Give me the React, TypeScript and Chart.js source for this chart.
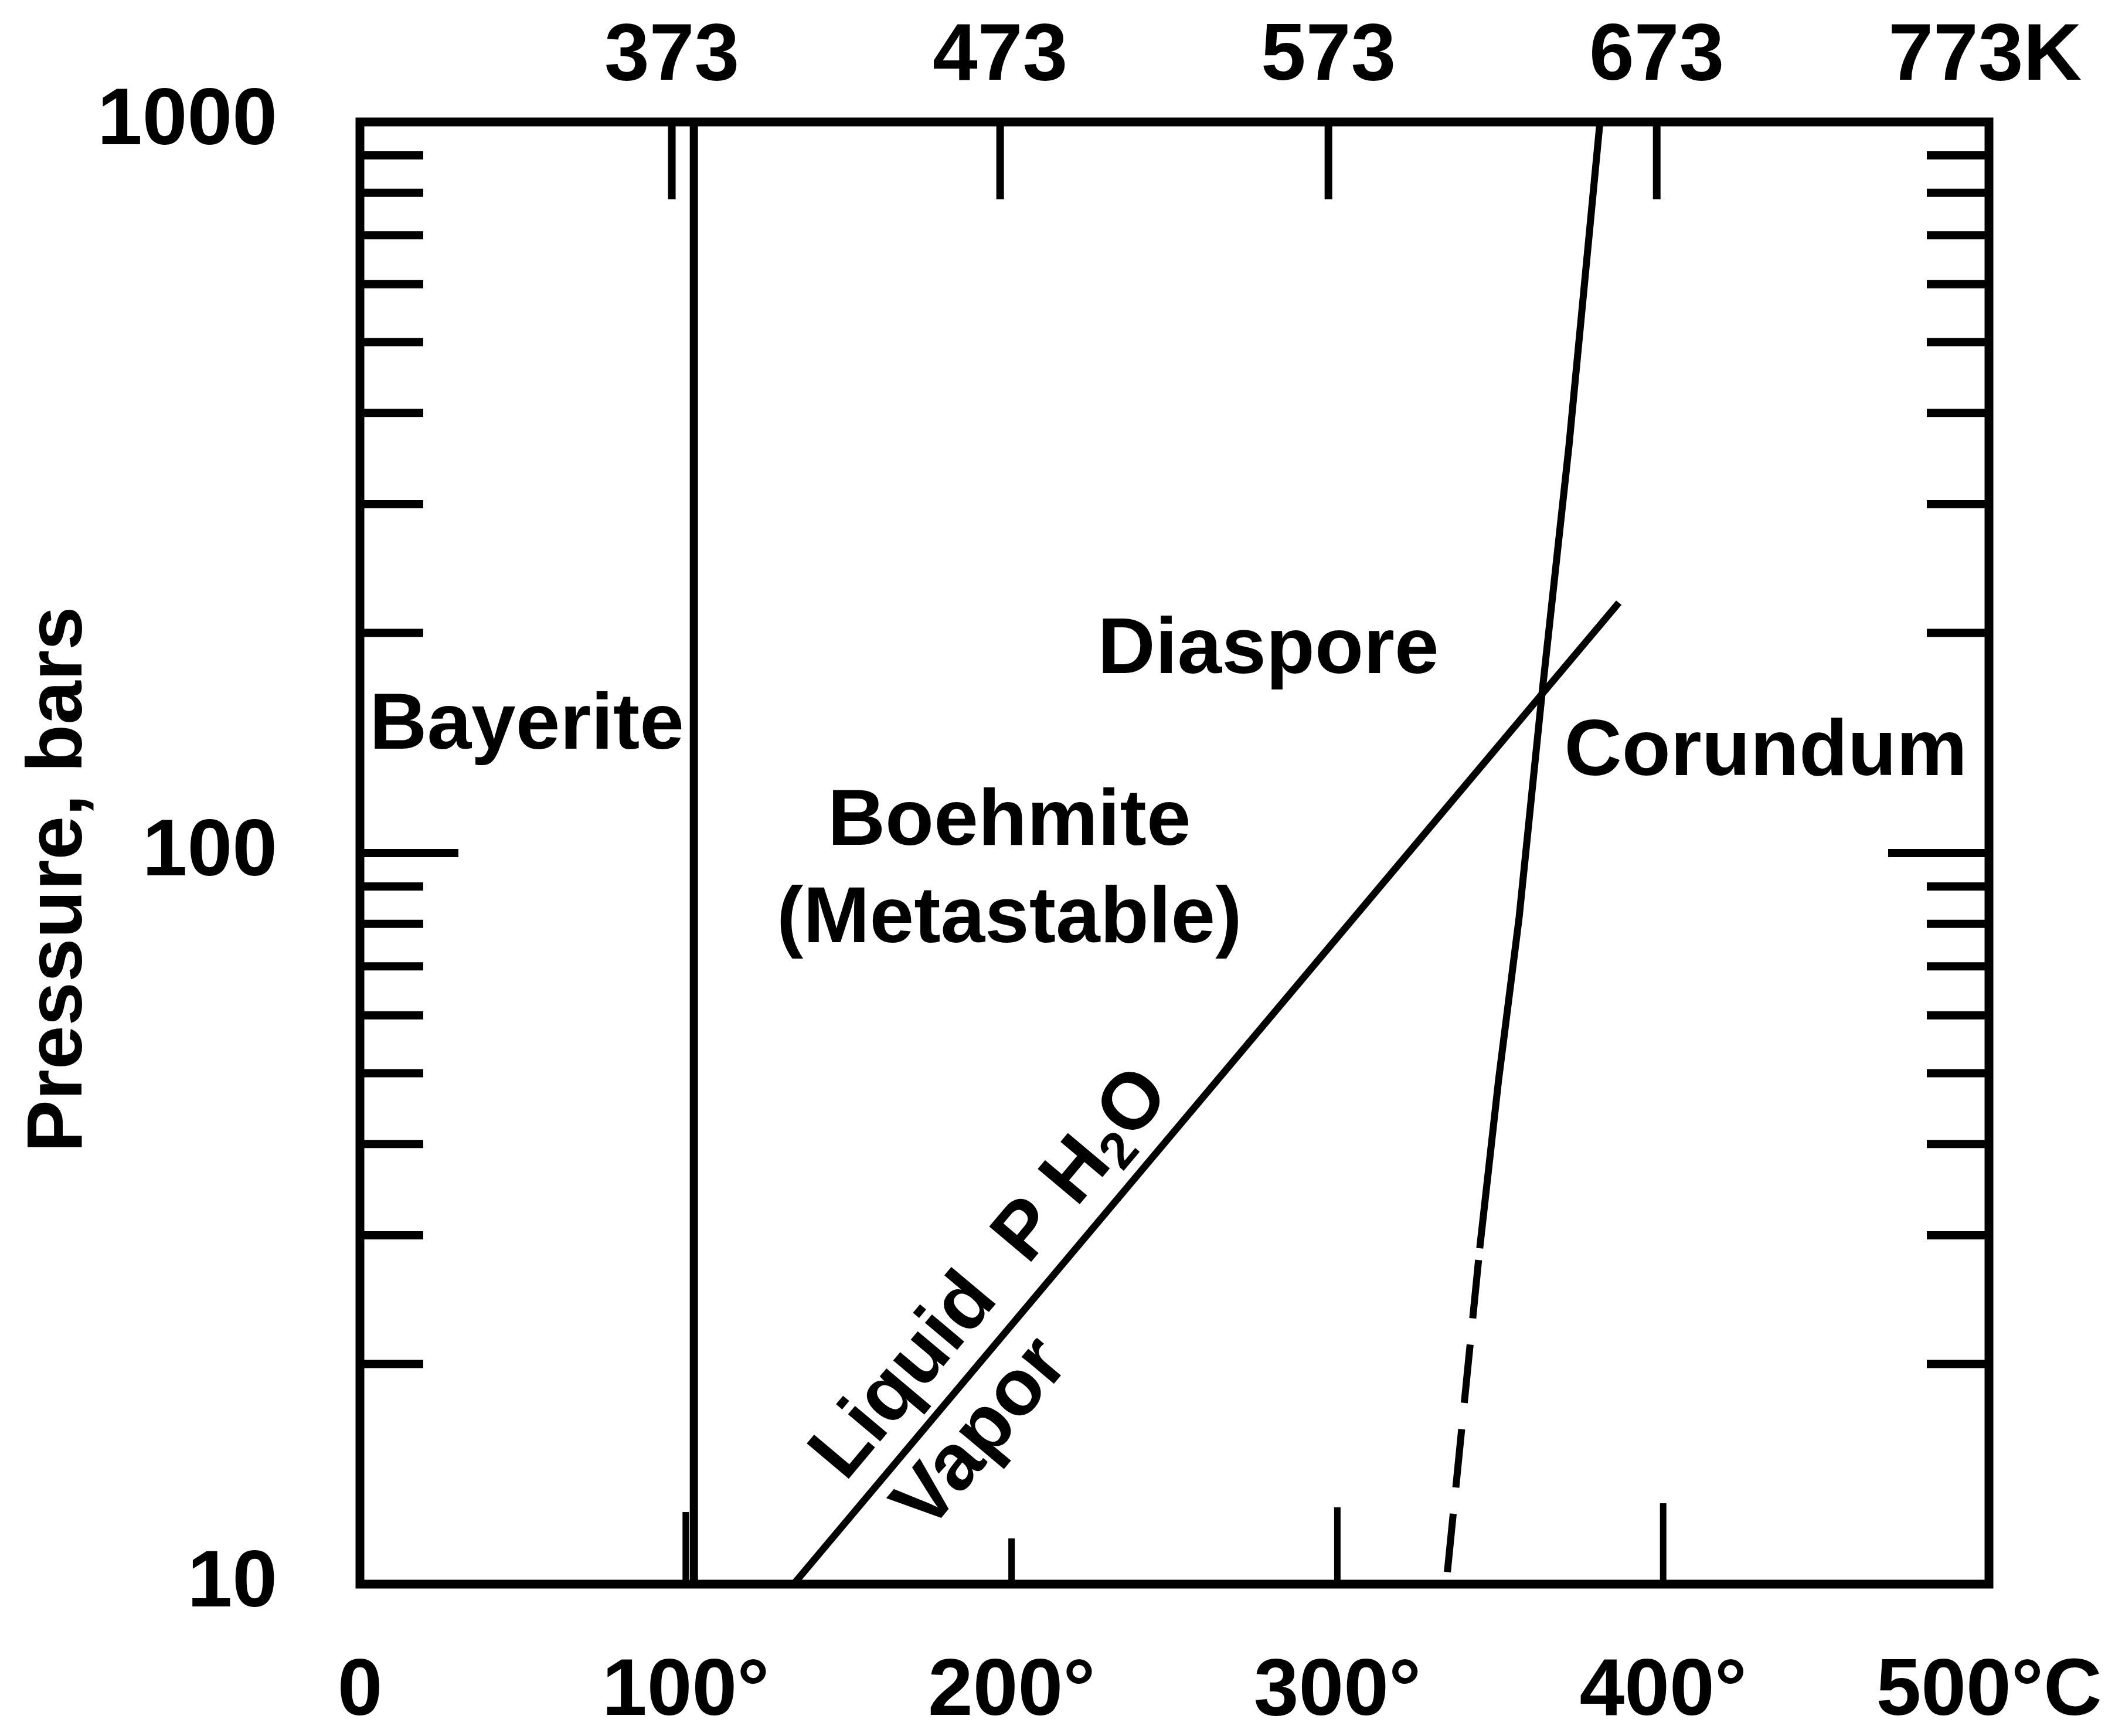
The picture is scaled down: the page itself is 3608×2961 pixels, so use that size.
import { useEffect, useRef } from "react";
import { Chart, registerables } from "chart.js";

Chart.register(...registerables);

const W = 3608;
const H = 2961;
const AREA = { left: 614, right: 3393, top: 208, bottom: 2702 };
const FONT = '"Liberation Sans", Arial, Helvetica, sans-serif';

// ---------- data ----------
const celsiusTicks = [0, 100, 200, 300, 400, 500];
const celsiusLabels = ["0", "100°", "200°", "300°", "400°", "500°C"];
const kelvinTicks = [373, 473, 573, 673, 773];
const kelvinLabels = ["373", "473", "573", "673", "773K"];
const pressureTicks = [10, 100, 1000];
const pressureLabels = ["10", "100", "1000"];
const pressureMinorTicks = [20, 30, 40, 50, 60, 70, 80, 90, 200, 300, 400, 500, 600, 700, 800, 900];

// Bayerite / Boehmite boundary
const bayeriteT = [102.5, 102.5];
const bayeriteP = [10, 1000];
// Liquid / Vapor (P H2O) curve
const liquidVaporT = [133.1, 362.8, 386.4];
const liquidVaporP = [10, 165, 220];
// Diaspore / Corundum boundary (solid)
const corundumT = [343.7, 349.5, 355.8, 362.8, 371.1, 380.6];
const corundumP = [28.8, 49, 81.7, 165, 361, 1000];
// Diaspore / Corundum boundary (dashed, extrapolated)
const corundumDashedT = [343.7, 333.4];
const corundumDashedP = [28.8, 10];

// region annotations (in data units: °C, bars)
const regionNames = ["Bayerite", "Diaspore", "Corundum", "Boehmite", "(Metastable)"];
const regionT = [51.2, 278.8, 431.5, 199.3, 199.3];
const regionP = [149, 189, 137, 110, 81];
const liquidLabelT = 193.9;
const liquidLabelP = 26.5;
const vaporLabelT = 191;
const vaporLabelP = 16;

// ---------- styles ----------
const BOTTOM_TICK_LEN = [0, 123, 78, 131, 138, 0];

const pts = (t: number[], p: number[]) => t.map((x, i) => ({ x, y: p[i] }));

const overlayPlugin = {
  id: "phaseOverlay",
  afterDatasetsDraw(chart: any) {
    const { ctx, chartArea } = chart;
    const { left, right, top, bottom } = chartArea;
    const xs = chart.scales.x;
    const ys = chart.scales.y;
    const xk = chart.scales.xk;
    const seg = (x1: number, y1: number, x2: number, y2: number) => {
      ctx.beginPath();
      ctx.moveTo(x1, y1);
      ctx.lineTo(x2, y2);
      ctx.stroke();
    };
    ctx.save();
    ctx.strokeStyle = "#000";
    ctx.fillStyle = "#000";
    ctx.lineCap = "butt";

    // pressure ticks (inward, both sides)
    ctx.lineWidth = 14;
    pressureMinorTicks.forEach((v) => {
      const y = ys.getPixelForValue(v);
      seg(left, y, left + 108, y);
      seg(right, y, right - 106, y);
    });
    const y100 = ys.getPixelForValue(100);
    seg(left, y100, left + 168, y100);
    seg(right, y100, right - 172, y100);

    // Celsius ticks (inward, bottom)
    ctx.lineWidth = 11;
    celsiusTicks.forEach((v, i) => {
      if (v <= 0 || v >= 500) return;
      const x = xs.getPixelForValue(v);
      seg(x, bottom, x, bottom - BOTTOM_TICK_LEN[i]);
    });

    // Kelvin ticks (inward, top)
    ctx.lineWidth = 13;
    kelvinTicks.forEach((v) => {
      if (v >= 773) return;
      const x = xk.getPixelForValue(v);
      seg(x, top, x, top + 132);
    });

    // frame
    ctx.lineWidth = 15;
    ctx.lineJoin = "miter";
    ctx.strokeRect(left, top, right - left, bottom - top);

    // region labels
    ctx.font = `bold 136px ${FONT}`;
    ctx.textAlign = "center";
    ctx.textBaseline = "middle";
    regionNames.forEach((s, i) => {
      ctx.fillText(s, xs.getPixelForValue(regionT[i]), ys.getPixelForValue(regionP[i]));
    });

    // rotated labels along the liquid/vapor curve
    const n = liquidVaporT.length - 1;
    const ang = Math.atan2(
      ys.getPixelForValue(liquidVaporP[n]) - ys.getPixelForValue(liquidVaporP[0]),
      xs.getPixelForValue(liquidVaporT[n]) - xs.getPixelForValue(liquidVaporT[0])
    );
    const big = `bold 136px ${FONT}`;
    const small = `bold 88px ${FONT}`;
    ctx.save();
    ctx.translate(xs.getPixelForValue(liquidLabelT), ys.getPixelForValue(liquidLabelP));
    ctx.rotate(ang);
    const parts = [
      { t: "Liquid  P H", f: big, dy: 0 },
      { t: "2", f: small, dy: 34 },
      { t: "O", f: big, dy: 0 },
    ];
    const widths = parts.map((p) => {
      ctx.font = p.f;
      return ctx.measureText(p.t).width;
    });
    const total = widths.reduce((a, b) => a + b, 0);
    let cx = -total / 2;
    ctx.textAlign = "left";
    parts.forEach((p, i) => {
      ctx.font = p.f;
      ctx.fillText(p.t, cx, p.dy);
      cx += widths[i];
    });
    ctx.restore();

    ctx.save();
    ctx.translate(xs.getPixelForValue(vaporLabelT), ys.getPixelForValue(vaporLabelP));
    ctx.rotate(ang);
    ctx.font = big;
    ctx.textAlign = "center";
    ctx.fillText("Vapor", 0, 0);
    ctx.restore();

    // y-axis title
    ctx.save();
    ctx.translate(102, 1500);
    ctx.rotate(-Math.PI / 2);
    ctx.font = `bold 134px ${FONT}`;
    ctx.textAlign = "center";
    ctx.fillText("Pressure, bars", 0, 0);
    ctx.restore();

    ctx.restore();
  },
};

const tickFont = { family: FONT, size: 138, weight: "bold" as const };

const noPad = (s: any) => {
  s.paddingLeft = 0;
  s.paddingRight = 0;
  s.paddingTop = 0;
  s.paddingBottom = 0;
};

export default function App() {
  const ref = useRef<HTMLCanvasElement>(null);

  useEffect(() => {
    if (!ref.current) return;
    const line = (data: any[], width: number, dash: number[] = [], offset = 0) => ({
      data,
      showLine: true,
      borderColor: "#000",
      borderWidth: width,
      borderDash: dash,
      borderDashOffset: offset,
      pointRadius: 0,
      fill: false,
      tension: 0,
      xAxisID: "x",
      yAxisID: "y",
    });
    const chart = new Chart(ref.current, {
      type: "scatter",
      data: {
        datasets: [
          line(pts(bayeriteT, bayeriteP), 14),
          line(pts(liquidVaporT, liquidVaporP), 12),
          line(pts(corundumT, corundumP), 12),
          line(pts(corundumDashedT, corundumDashedP), 12, [100, 45], 125),
        ] as any,
      },
      options: {
        responsive: false,
        animation: false,
        devicePixelRatio: 1,
        layout: { padding: { left: 0, top: 0, right: W - AREA.right, bottom: 0 } },
        plugins: { legend: { display: false }, tooltip: { enabled: false } },
        scales: {
          x: {
            type: "linear",
            position: "bottom",
            min: 0,
            max: 500,
            grid: { display: false, drawTicks: false },
            border: { display: false },
            afterBuildTicks: (s: any) => {
              s.ticks = celsiusTicks.map((v) => ({ value: v }));
            },
            afterFit: (s: any) => {
              s.height = H - AREA.bottom;
              noPad(s);
            },
            ticks: {
              autoSkip: false,
              maxRotation: 0,
              minRotation: 0,
              padding: 102,
              color: "#000",
              font: tickFont,
              callback: (v: any) => celsiusLabels[celsiusTicks.indexOf(Number(v))] ?? "",
            },
          },
          xk: {
            type: "linear",
            axis: "x",
            position: "top",
            min: 278,
            max: 774.2,
            grid: { display: false, drawTicks: false },
            border: { display: false },
            afterBuildTicks: (s: any) => {
              s.ticks = kelvinTicks.map((v) => ({ value: v }));
            },
            afterFit: (s: any) => {
              s.height = AREA.top;
              noPad(s);
            },
            ticks: {
              autoSkip: false,
              maxRotation: 0,
              minRotation: 0,
              padding: 27,
              color: "#000",
              font: tickFont,
              callback: (v: any) => kelvinLabels[kelvinTicks.indexOf(Number(v))] ?? "",
            },
          },
          y: {
            type: "logarithmic",
            position: "left",
            min: 10,
            max: 1000,
            grid: { display: false, drawTicks: false },
            border: { display: false },
            afterBuildTicks: (s: any) => {
              s.ticks = pressureTicks.map((v) => ({ value: v }));
            },
            afterFit: (s: any) => {
              s.width = AREA.left;
              noPad(s);
            },
            ticks: {
              autoSkip: false,
              padding: 141,
              color: "#000",
              font: tickFont,
              callback: (v: any) => pressureLabels[pressureTicks.indexOf(Number(v))] ?? "",
            },
          },
        } as any,
      },
      plugins: [overlayPlugin],
    });
    return () => chart.destroy();
  }, []);

  return (
    <div style={{ position: "absolute", left: 0, top: 0, width: W, height: H, background: "#fff" }}>
      <canvas ref={ref} width={W} height={H} style={{ width: W, height: H, display: "block" }} />
    </div>
  );
}
